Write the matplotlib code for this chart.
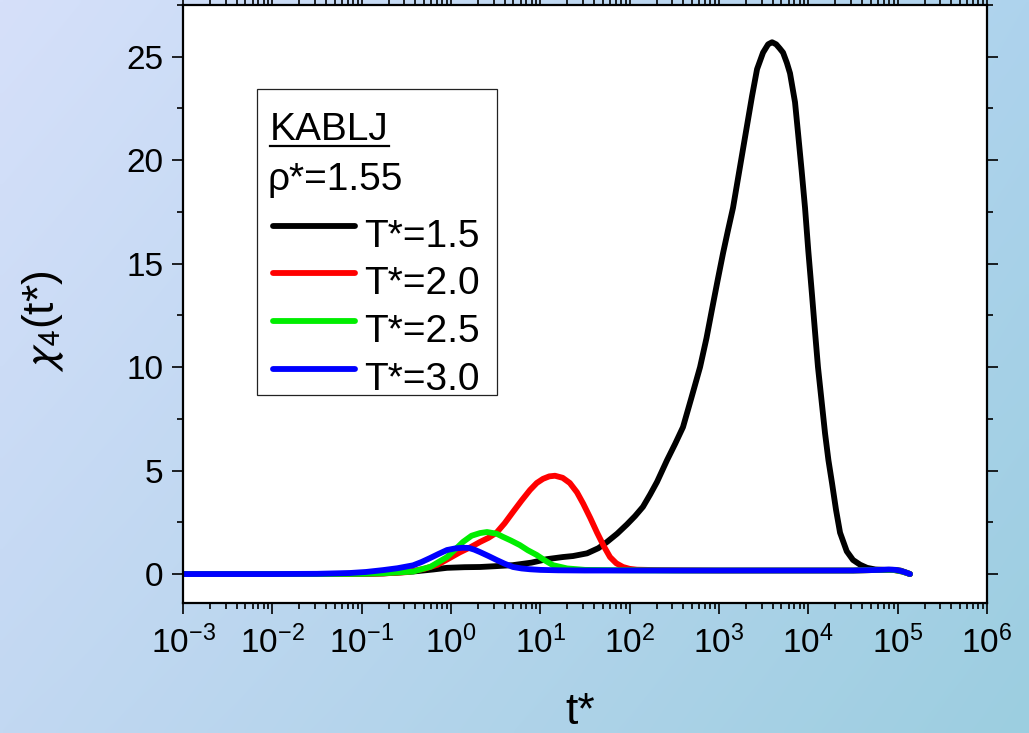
import numpy as np
import matplotlib
matplotlib.use('Agg')
import matplotlib.pyplot as plt
from matplotlib.ticker import LogLocator, MultipleLocator, NullFormatter, FixedLocator, FixedFormatter
from matplotlib.patches import Rectangle
from matplotlib.lines import Line2D

plt.rcParams['font.family'] = ['Liberation Sans', 'DejaVu Sans']
plt.rcParams['mathtext.fontset'] = 'custom'
plt.rcParams['mathtext.rm'] = 'Liberation Sans'
plt.rcParams['mathtext.it'] = 'Liberation Sans:italic'
plt.rcParams['mathtext.bf'] = 'Liberation Sans:bold'

# --- данные (log10 t*, chi4) ---
black_logt = [-3, -2, -1.5, -1.0, -0.76, -0.6, -0.425, -0.2, -0.045, 0.15, 0.325, 0.5,
              0.694, 0.9, 1.075, 1.25, 1.366, 1.523, 1.65, 1.746, 1.86, 1.97, 2.06, 2.149,
              2.23, 2.306, 2.418, 2.51, 2.597, 2.69, 2.788, 2.86, 2.922, 2.985, 3.045, 3.1,
              3.157, 3.22, 3.291, 3.37, 3.426, 3.493, 3.55, 3.594, 3.64, 3.68, 3.717,
              3.76, 3.795, 3.851, 3.885, 3.925, 3.963, 4.0, 4.041, 4.075, 4.108, 4.15,
              4.187, 4.225, 4.265, 4.31, 4.355, 4.43, 4.5, 4.58, 4.657, 4.75, 4.85, 4.95,
              5.03, 5.09, 5.138]
black_chi = [0, 0, 0, 0.01, 0.03, 0.07, 0.12, 0.22, 0.3, 0.33, 0.34, 0.38,
             0.43, 0.55, 0.72, 0.82, 0.87, 1.0, 1.25, 1.55, 1.95, 2.4, 2.8, 3.25,
             3.85, 4.45, 5.5, 6.3, 7.1, 8.5, 10.0, 11.4, 12.8, 14.2, 15.5, 16.6,
             17.7, 19.3, 21.1, 23.1, 24.4, 25.2, 25.6, 25.7, 25.6, 25.4, 25.2,
             24.7, 24.2, 22.8, 21.3, 19.5, 17.7, 15.6, 13.5, 11.7, 10.0, 8.3,
             6.8, 5.5, 4.4, 3.1, 2.0, 1.1, 0.68, 0.45, 0.3, 0.22, 0.2, 0.2,
             0.17, 0.08, 0.0]

red_logt = [-3, -2, -1.5, -1.0, -0.75, -0.5, -0.3, -0.15, -0.045, 0.1, 0.22, 0.325, 0.42,
            0.51, 0.6, 0.694, 0.79, 0.884, 0.96, 1.03, 1.1, 1.164, 1.25, 1.33, 1.41, 1.48,
            1.56, 1.635, 1.71, 1.78, 1.85, 1.925, 2.0, 2.08, 2.3, 2.6, 3.0, 3.5, 4.0, 4.5,
            4.8, 4.95, 5.05, 5.138]
red_chi = [0, 0, 0, 0.01, 0.03, 0.09, 0.25, 0.45, 0.7, 1.05, 1.3, 1.55, 1.75,
           2.0, 2.45, 3.0, 3.55, 4.06, 4.4, 4.6, 4.72, 4.75, 4.65, 4.4, 3.95, 3.4,
           2.7, 2.0, 1.35, 0.82, 0.52, 0.34, 0.25, 0.21, 0.19, 0.18, 0.17, 0.17, 0.17, 0.17,
           0.2, 0.2, 0.12, 0.0]

green_logt = [-3, -2, -1.5, -1.0, -0.75, -0.425, -0.23, -0.045, 0.05, 0.134, 0.23, 0.325,
              0.403, 0.51, 0.58, 0.67, 0.77, 0.86, 0.96, 1.05, 1.14, 1.3, 1.5, 2.0, 2.5,
              3.0, 3.5, 4.0, 4.5, 4.8, 4.95, 5.05, 5.138]
green_chi = [0, 0, 0, 0.01, 0.04, 0.12, 0.35, 0.82, 1.2, 1.55, 1.85, 1.98,
             2.03, 1.95, 1.8, 1.62, 1.4, 1.15, 0.92, 0.66, 0.43, 0.27, 0.2, 0.18, 0.17,
             0.17, 0.17, 0.17, 0.17, 0.2, 0.2, 0.12, 0.0]

blue_logt = [-3, -2, -1.5, -1.13, -0.95, -0.76, -0.6, -0.425, -0.33, -0.235, -0.14, -0.045,
             0.05, 0.134, 0.2, 0.26, 0.325, 0.42, 0.51, 0.6, 0.694, 0.79, 0.884, 1.0, 1.2,
             1.5, 2.0, 2.5, 3.0, 3.5, 4.0, 4.5, 4.8, 4.9, 4.98, 5.05, 5.1, 5.138]
blue_chi = [0, 0, 0.01, 0.05, 0.1, 0.19, 0.28, 0.42, 0.58, 0.77, 0.97, 1.16,
            1.24, 1.27, 1.26, 1.18, 1.06, 0.87, 0.68, 0.5, 0.34, 0.27, 0.23, 0.2, 0.18,
            0.17, 0.17, 0.17, 0.17, 0.17, 0.17, 0.17, 0.2, 0.22, 0.2, 0.13, 0.06, 0.0]

series = [
    ("T*=1.5", black_logt, black_chi, '#000000'),
    ("T*=2.0", red_logt, red_chi, '#ff0000'),
    ("T*=2.5", green_logt, green_chi, '#00ee00'),
    ("T*=3.0", blue_logt, blue_chi, '#0000ff'),
]

x_decades = [-3, -2, -1, 0, 1, 2, 3, 4, 5, 6]
y_ticks = [0, 5, 10, 15, 20, 25]

LW = 4.2

fig = plt.figure(figsize=(10.29, 7.33), dpi=100)

# фон с градиентом
bg = fig.add_axes([0, 0, 1, 1], zorder=-10)
tl = np.array([214, 224, 250]) / 255
tr = np.array([174, 211, 237]) / 255
bl = np.array([194, 216, 242]) / 255
br = np.array([156, 206, 224]) / 255
u = np.linspace(0, 1, 200)[None, :, None]
v = np.linspace(0, 1, 150)[:, None, None]
grad = (1 - v) * ((1 - u) * tl + u * tr) + v * ((1 - u) * bl + u * br)
bg.imshow(grad, aspect='auto', extent=[0, 1, 0, 1], interpolation='bilinear')
bg.axis('off')

ax = fig.add_axes([183 / 1029, 130 / 733, 804 / 1029, 598 / 733])
ax.set_facecolor('white')

for label, lt, chi, color in series:
    ax.plot(10.0 ** np.array(lt), chi, color=color, lw=LW, solid_capstyle='round',
            solid_joinstyle='round')

ax.set_xscale('log')
ax.set_xlim(1e-3, 1e6)
ax.set_ylim(-1.4, 27.5)

ax.xaxis.set_major_locator(FixedLocator([10.0 ** d for d in x_decades]))
ax.xaxis.set_major_formatter(FixedFormatter([r'$\mathrm{10^{%d}}$' % d for d in x_decades]))
ax.xaxis.set_minor_locator(LogLocator(base=10, subs=np.arange(2, 10), numticks=20))
ax.xaxis.set_minor_formatter(NullFormatter())
ax.yaxis.set_major_locator(FixedLocator(y_ticks))
ax.yaxis.set_minor_locator(MultipleLocator(2.5))

for s in ax.spines.values():
    s.set_linewidth(1.6)
ax.tick_params(which='both', direction='out', top=True, right=True, width=1.2)
ax.tick_params(which='major', length=8, labelsize=24)
ax.tick_params(which='minor', length=4.3)
ax.tick_params(axis='x', which='major', pad=8)
ax.tick_params(axis='y', which='major', pad=6)
ax.tick_params(which='both', top=True, right=True, labeltop=False, labelright=False)

fig.text(43 / 1029, (733 - 321) / 733, r'$\chi_{\mathsf{4}}$(t*)', rotation=90, fontsize=32,
         ha='center', va='center', math_fontfamily='stixsans')
fig.text(580 / 1029, 0.0, 't*', fontsize=32, ha='center', va='bottom')

# легенда вручную
def fx(px):
    return (px - 183) / 804


def fy(py):
    return (603 - py) / 598


ax.add_patch(Rectangle((fx(257), fy(395)), fx(497) - fx(257), fy(89) - fy(395),
                       transform=ax.transAxes, facecolor='white', edgecolor='#222222',
                       lw=0.9, zorder=5))
ax.text(fx(270), fy(140), 'KABLJ', transform=ax.transAxes, fontsize=28,
        ha='left', va='baseline', zorder=6)
ax.add_line(Line2D([fx(270), fx(389)], [fy(145.5), fy(145.5)], transform=ax.transAxes,
                   color='black', lw=1.6, zorder=6))
ax.text(fx(268), fy(190), 'ρ*=1.55', transform=ax.transAxes, fontsize=28,
        ha='left', va='baseline', zorder=6)
row_y = [226, 273, 321, 369]
for (label, lt, chi, color), ry in zip(series, row_y):
    ax.add_line(Line2D([fx(273), fx(355)], [fy(ry), fy(ry)], transform=ax.transAxes,
                       color=color, lw=LW, solid_capstyle='round', zorder=6))
    ax.text(fx(364), fy(ry + 21), label, transform=ax.transAxes, fontsize=28,
            ha='left', va='baseline', zorder=6)

fig.savefig('out.png', dpi=100)
